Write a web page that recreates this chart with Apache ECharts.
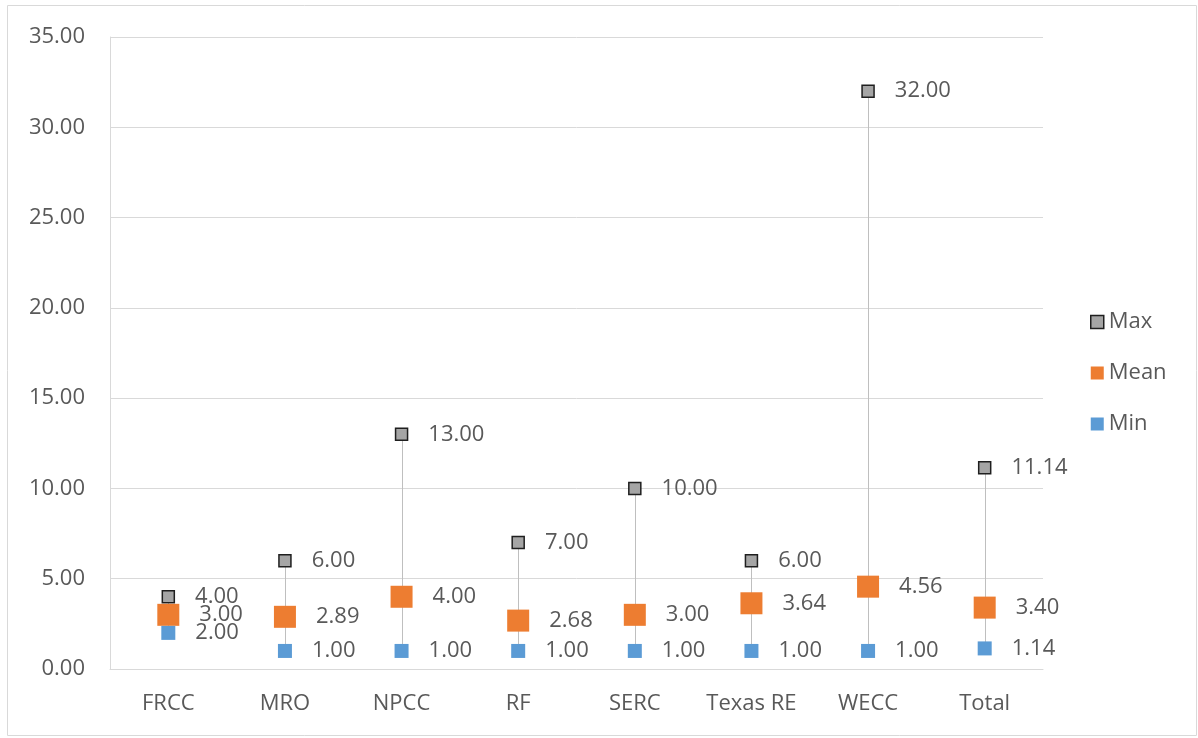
<!DOCTYPE html>
<html>
<head>
<meta charset="utf-8">
<script src="https://cdn.jsdelivr.net/npm/echarts@6/dist/echarts.min.js"></script>
<style>
  html, body { margin: 0; padding: 0; background: #ffffff; }
  #chart { width: 1198px; height: 738px; }
</style>
</head>
<body>
<div id="chart"></div>
<script>
// Regions and summary statistics per region
const categories = ['FRCC', 'MRO', 'NPCC', 'RF', 'SERC', 'Texas RE', 'WECC', 'Total'];
const maxValues  = [4.00, 6.00, 13.00, 7.00, 10.00, 6.00, 32.00, 11.14];
const meanValues = [3.00, 2.89, 4.00, 2.68, 3.00, 3.64, 4.56, 3.40];
const minValues  = [2.00, 1.00, 1.00, 1.00, 1.00, 1.00, 1.00, 1.14];
const yTicks = { min: 0, max: 35, interval: 5 };

const FONT = '"Open Sans", "Liberation Sans", sans-serif';
const TEXT = '#595959';
const FS = 22;

const chart = echarts.init(document.getElementById('chart'));

const label = {
  show: true,
  position: 'right',
  distance: 20,
  color: TEXT,
  fontFamily: FONT,
  fontSize: FS,
  formatter: p => p.value[1].toFixed(2)
};

const pts = arr => arr.map((v, i) => [i, v]);

chart.setOption({
  animation: false,
  textStyle: { fontFamily: FONT },
  graphic: [{
    type: 'rect',
    shape: { x: 7.5, y: 5.5, width: 1189, height: 730 },
    style: { fill: 'none', stroke: '#d9d9d9', lineWidth: 1 },
    silent: true, z: -1
  }],
  grid: { left: 110, right: 155, top: 37, bottom: 69, containLabel: false },
  legend: {
    orient: 'vertical',
    left: 1085,
    top: 306,
    itemGap: 29,
    itemWidth: 13,
    itemHeight: 13,
    textStyle: { color: TEXT, fontSize: FS, fontFamily: FONT },
    data: [
      { name: 'Max', icon: 'rect', itemStyle: { color: '#a5a5a5', borderColor: '#1f1f1f', borderWidth: 1.5 } },
      { name: 'Mean', icon: 'rect' },
      { name: 'Min', icon: 'rect' }
    ]
  },
  xAxis: {
    type: 'category',
    data: categories,
    boundaryGap: true,
    axisLine: { show: true, lineStyle: { color: '#d9d9d9' } },
    axisTick: { show: false },
    axisLabel: { color: TEXT, fontSize: FS, fontFamily: FONT, margin: 24, interval: 0, hideOverlap: false }
  },
  yAxis: {
    type: 'value',
    min: yTicks.min,
    max: yTicks.max,
    interval: yTicks.interval,
    axisLine: { show: true, lineStyle: { color: '#d9d9d9' } },
    axisTick: { show: false },
    splitLine: { lineStyle: { color: '#d9d9d9' } },
    axisLabel: { color: TEXT, fontSize: FS, fontFamily: FONT, margin: 25, formatter: v => v.toFixed(2) }
  },
  series: [
    {
      // high-low connector from min to max
      type: 'custom',
      name: 'range',
      silent: true,
      data: categories.map((c, i) => [i, minValues[i], maxValues[i]]),
      encode: { x: 0, y: [1, 2] },
      renderItem: (params, api) => {
        const lo = api.coord([api.value(0), api.value(1)]);
        const hi = api.coord([api.value(0), api.value(2)]);
        return {
          type: 'line',
          shape: { x1: Math.round(lo[0]) + 0.5, y1: lo[1], x2: Math.round(hi[0]) + 0.5, y2: hi[1] },
          style: { stroke: '#bfbfbf', lineWidth: 1 }
        };
      },
      z: 1
    },
    {
      name: 'Max', type: 'scatter', symbol: 'rect', symbolSize: 12,
      data: pts(maxValues),
      itemStyle: { color: '#a5a5a5', borderColor: '#1f1f1f', borderWidth: 1.5, opacity: 1 },
      label, z: 2
    },
    {
      name: 'Mean', type: 'scatter', symbol: 'rect', symbolSize: 22,
      data: pts(meanValues),
      itemStyle: { color: '#ed7d31', opacity: 1 },
      label, z: 3
    },
    {
      name: 'Min', type: 'scatter', symbol: 'rect', symbolSize: 14,
      data: pts(minValues),
      itemStyle: { color: '#5b9bd5', opacity: 1 },
      label, z: 4
    }
  ]
});
</script>
</body>
</html>
